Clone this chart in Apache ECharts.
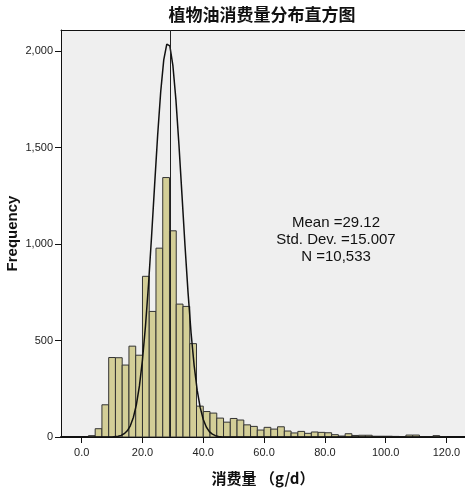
<!DOCTYPE html>
<html>
<head>
<meta charset="utf-8">
<script src="https://cdn.jsdelivr.net/npm/echarts@6/dist/echarts.min.js"></script>
<style>
  html, body { margin: 0; padding: 0; background: #fff; }
  #main { width: 465px; height: 490px; }
</style>
</head>
<body>
<div id="main"></div>
<script>
// histogram counts, bins of width 20/9 starting at 0
var binWidth = 20 / 9;
var binCounts = [
  0, 7, 43, 167, 412, 411, 373, 471, 424, 833,
  651, 979, 1345, 1069, 689, 677, 484, 160, 132, 124,
  98, 77, 96, 88, 63, 55, 36, 50, 41, 53,
  31, 21, 29, 19, 26, 24, 22, 12, 5, 17,
  8, 9, 9, 4, 4, 4, 3, 2, 10, 10,
  2, 2, 7, 2
];

// normal curve
var curveX = [-6.8, 10, 12, 13, 14, 15, 16, 17, 18, 19, 20, 21, 22, 23, 24, 25, 26, 27, 28,
  29, 30, 31, 32, 33, 34, 35, 36, 37, 38, 39, 40, 41, 42, 43, 44, 45, 46, 48, 126];
var curveY = [0, 0, 4, 8, 17, 32, 58, 101, 168, 265, 400, 577, 793, 1042, 1307, 1566, 1790, 1955, 2037,
  2028, 1927, 1749, 1515, 1254, 990, 747, 538, 370, 243, 152, 91, 52, 28, 15, 7, 3, 1, 0, 0];

var xTicks = [0, 20, 40, 60, 80, 100, 120];
var yTicks = [0, 500, 1000, 1500, 2000];

var meanValue = 29.12;
var stdDev = '15.007';
var nCount = 10533;

var chartDom = document.getElementById('main');
var myChart = echarts.init(chartDom);

var histData = [];
binCounts.forEach(function (c, i) {
  if (c > 0) histData.push([i * binWidth, (i + 1) * binWidth, c]);
});
var curveData = curveX.map(function (x, i) { return [x, curveY[i]]; });

var option = {
  animation: false,
  title: {
    text: '植物油消费量分布直方图',
    left: 262,
    top: 6,
    padding: 0,
    textAlign: 'center',
    textStyle: {
      fontFamily: 'Noto Sans CJK SC',
      fontWeight: 'bold',
      fontSize: 17,
      color: '#111'
    }
  },
  grid: {
    left: 61,
    right: 0,
    top: 30,
    bottom: 53,
    outerBoundsMode: 'none',
    containLabel: false,
    show: true,
    backgroundColor: '#efefef',
    borderWidth: 0
  },
  xAxis: [{
    type: 'value',
    min: -6.8,
    max: 126.1,
    splitLine: { show: false },
    axisLine: { onZero: false, lineStyle: { color: '#111', width: 2 } },
    axisTick: { customValues: xTicks, length: 6, lineStyle: { color: '#111' } },
    axisLabel: {
      customValues: xTicks,
      formatter: function (v) { return v.toFixed(1); },
      fontFamily: 'Liberation Sans',
      fontSize: 11,
      color: '#222',
      margin: 10
    },
    name: '消费量 （g/d）',
    nameLocation: 'middle',
    nameGap: 34,
    nameTextStyle: {
      fontFamily: 'Noto Sans CJK SC',
      fontWeight: 'bold',
      fontSize: 15,
      color: '#111'
    }
  }, {
    type: 'value',
    position: 'top',
    min: -6.8,
    max: 126.1,
    splitLine: { show: false },
    axisLine: { show: true, onZero: false, lineStyle: { color: '#111', width: 1 } },
    axisTick: { show: false },
    axisLabel: { show: false }
  }],
  yAxis: {
    type: 'value',
    min: 0,
    max: 2110,
    splitLine: { show: false },
    axisLine: { show: true, onZero: false, lineStyle: { color: '#111', width: 1 } },
    axisTick: { show: true, customValues: yTicks, length: 6, lineStyle: { color: '#111' } },
    axisLabel: {
      customValues: yTicks,
      formatter: function (v) { return v.toLocaleString('en-US'); },
      fontFamily: 'Liberation Sans',
      fontSize: 11,
      color: '#222',
      margin: 8
    },
    name: 'Frequency',
    nameLocation: 'middle',
    nameGap: 41,
    nameMoveOverlap: false,
    nameTextStyle: {
      fontFamily: 'Liberation Sans',
      fontWeight: 'bold',
      fontSize: 15,
      color: '#111'
    }
  },
  graphic: [{
    type: 'text',
    x: 336,
    y: 214,
    style: {
      text: 'Mean =' + meanValue.toFixed(2) + '\nStd. Dev. =' + stdDev + '\nN =' + nCount.toLocaleString('en-US'),
      align: 'center',
      verticalAlign: 'top',
      fontFamily: 'Liberation Sans',
      fontSize: 15,
      lineHeight: 17,
      fill: '#111'
    }
  }],
  series: [{
    type: 'custom',
    clip: true,
    data: histData,
    renderItem: function (params, api) {
      var p0 = api.coord([api.value(0), 0]);
      var p1 = api.coord([api.value(1), api.value(2)]);
      return {
        type: 'rect',
        shape: { x: p0[0], y: p1[1], width: p1[0] - p0[0], height: p0[1] - p1[1] },
        style: { fill: '#d3ce97', stroke: '#333', lineWidth: 1 }
      };
    }
  }, {
    type: 'line',
    data: curveData,
    showSymbol: false,
    smooth: false,
    lineStyle: { color: '#111', width: 1.5 },
    markLine: {
      silent: true,
      symbol: 'none',
      label: { show: false },
      lineStyle: { color: '#222', width: 1, type: 'solid' },
      data: [{ xAxis: meanValue }]
    }
  }]
};

option && myChart.setOption(option);
</script>
</body>
</html>
